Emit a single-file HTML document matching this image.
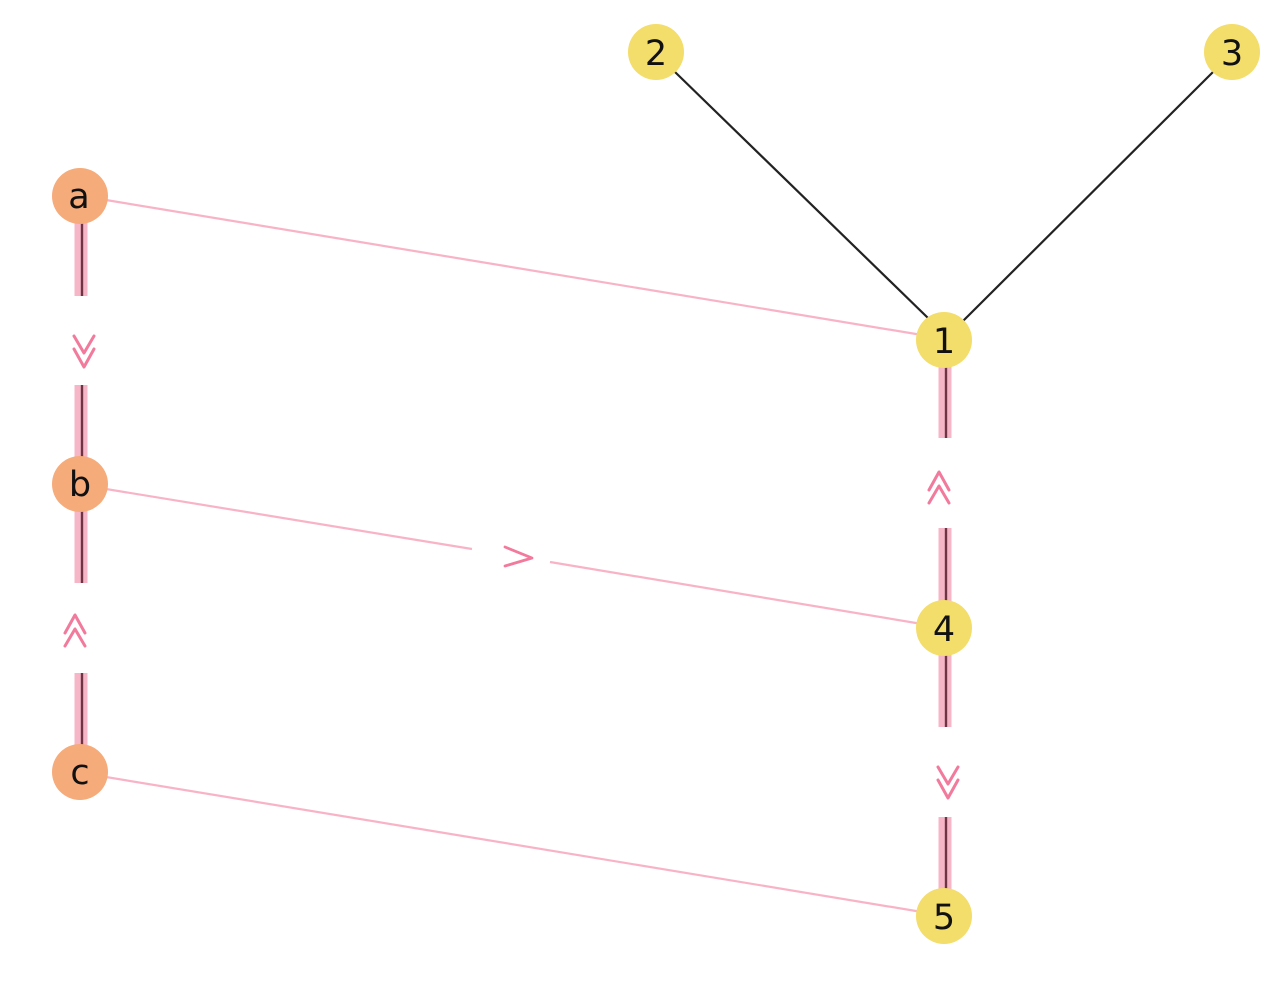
<!DOCTYPE html>
<html><head><meta charset="utf-8"><style>
html,body{margin:0;padding:0;background:#fff;width:1280px;height:983px;overflow:hidden}
text{font-family:"DejaVu Sans","Liberation Sans",sans-serif;font-size:35px;fill:#111}
</style></head><body>
<svg width="1280" height="983" viewBox="0 0 1280 983" xmlns="http://www.w3.org/2000/svg">
<defs>
<g id="chevD" fill="none" stroke="#f27a9c" stroke-width="3" stroke-linecap="round" stroke-linejoin="round">
<polyline points="-10,-22 0,-5 10,-22"/>
<polyline points="-10,-9 0,9 10,-9"/>
</g>
</defs>
<line x1="675" y1="72" x2="928" y2="318" stroke="#222" stroke-width="2.2"/>
<line x1="1213" y1="72" x2="962" y2="322" stroke="#222" stroke-width="2.2"/>
<g stroke="#f8b4c6" stroke-width="2.2">
<line x1="100" y1="199" x2="922" y2="335"/>
<line x1="100" y1="488" x2="472" y2="549"/>
<line x1="550" y1="562" x2="922" y2="624"/>
<line x1="100" y1="776" x2="922" y2="912"/>
</g>
<polyline points="505,547 532,558 505,566" fill="none" stroke="#f27a9c" stroke-width="2.8" stroke-linecap="round" stroke-linejoin="round"/>
<g stroke="#f7b6c8" stroke-width="13">
<line x1="81" y1="215" x2="81" y2="296"/>
<line x1="81" y1="385" x2="81" y2="465"/>
<line x1="81" y1="505" x2="81" y2="583"/>
<line x1="81" y1="673" x2="81" y2="752"/>
<line x1="945" y1="360" x2="945" y2="438"/>
<line x1="945" y1="528" x2="945" y2="608"/>
<line x1="945" y1="648" x2="945" y2="727"/>
<line x1="945" y1="817" x2="945" y2="896"/>
</g>
<g stroke="#6e3444" stroke-width="2.4">
<line x1="82" y1="215" x2="82" y2="296"/>
<line x1="82" y1="385" x2="82" y2="465"/>
<line x1="82" y1="505" x2="82" y2="583"/>
<line x1="82" y1="673" x2="82" y2="752"/>
<line x1="946" y1="360" x2="946" y2="438"/>
<line x1="946" y1="528" x2="946" y2="608"/>
<line x1="946" y1="648" x2="946" y2="727"/>
<line x1="946" y1="817" x2="946" y2="896"/>
</g>
<use href="#chevD" transform="translate(84,358)"/>
<use href="#chevD" transform="translate(948,789)"/>
<use href="#chevD" transform="translate(75,624) rotate(180)"/>
<use href="#chevD" transform="translate(939,481) rotate(180)"/>
<g fill="#f6ab7b">
<circle cx="80" cy="196" r="28"/>
<circle cx="80" cy="484" r="28"/>
<circle cx="80" cy="772" r="28"/>
</g>
<g fill="#f3dd6b">
<circle cx="656" cy="52" r="28"/>
<circle cx="1232" cy="52" r="28"/>
<circle cx="944" cy="340" r="28"/>
<circle cx="944" cy="628" r="28"/>
<circle cx="944" cy="916" r="28"/>
</g>
<g text-anchor="middle">
<text x="79" y="208">a</text>
<text x="80" y="496">b</text>
<text x="80" y="784">c</text>
<text x="656" y="65">2</text>
<text x="1232" y="65">3</text>
<text x="944" y="353">1</text>
<text x="944" y="641">4</text>
<text x="944" y="929">5</text>
</g>
</svg>
</body></html>
